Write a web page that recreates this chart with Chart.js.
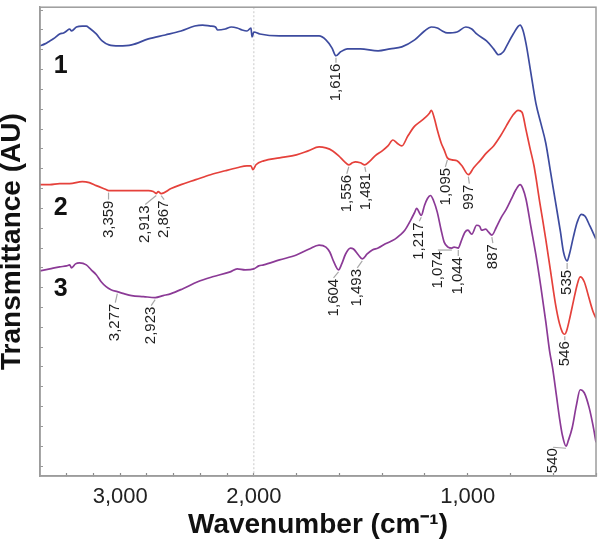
<!DOCTYPE html>
<html><head><meta charset="utf-8">
<script src="https://cdn.jsdelivr.net/npm/chart.js@4.4.1/dist/chart.umd.min.js"></script>
<style>html,body{margin:0;padding:0;background:#fff}canvas{display:block}</style>
</head><body>
<canvas id="c" width="607" height="545"></canvas>
<script>
// ---- data: wavenumber (cm-1) and transmittance (arbitrary units) ----
const wn1 = [4000,3954,3908,3862,3816,3779,3751,3723,3705,3659,3604,3567,3539,3474,3419,3355,3262,3143,2986,2829,2681,2553,2479,2405,2359,2340,2267,2211,2156,2110,2064,2027,2017,2000,1972,1880,1801,1695,1663,1635,1616,1594,1562,1502,1419,1363,1308,1248,1202,1170,1142,1119,1096,1050,1009,981,958,912,879,856,833,820,787,755,742,727,704,681,658,635,612,589,566,552,535,524,506,488,469,451,428,400];
const t1  = [434,436,439,442,446,447,449,451,449,453,454,454,452,446,439,435,434,435,441,445,449,454,455,454,453,450,451,453,452,450,449,452,443,448,446,444,444,444,440,432,424,428,431,431,429,431,433,440,449,453,452,449,447,448,453,451,446,439,431,425,428,433,446,455,450,436,406,376,356,336,306,276,246,226,217,224,241,256,264,262,252,239];

const wn2 = [4000,3908,3816,3723,3604,3539,3474,3382,3359,3170,2986,2940,2913,2894,2867,2774,2681,2543,2405,2267,2156,2064,2027,2009,1990,1954,1880,1801,1746,1695,1663,1631,1603,1575,1556,1539,1525,1502,1481,1456,1433,1400,1373,1350,1331,1308,1280,1248,1225,1202,1179,1170,1156,1142,1124,1110,1095,1073,1050,1027,997,972,939,912,879,847,820,792,764,746,727,709,690,677,663,649,635,612,589,571,557,546,538,524,506,488,474,455,432,414,400];
const t2  = [294,294,295,295,297,296,293,289,288,288,288,287,285,287,285,290,294,299,304,308,311,313,313,309,314,318,321,324,328,332,331,328,323,317,314,316,317,316,314,318,323,328,333,339,336,333,343,353,357,361,366,369,361,349,336,329,321,319,318,313,304,311,319,326,333,343,353,363,369,367,349,331,313,296,276,258,239,206,173,154,145,143,146,158,176,193,201,196,179,166,159];

const wn3 = [4000,3908,3816,3751,3723,3705,3668,3631,3567,3521,3474,3428,3382,3336,3277,3216,3143,3032,2923,2848,2774,2663,2525,2387,2221,2156,2082,2000,1977,1954,1880,1801,1741,1695,1663,1645,1626,1604,1589,1571,1548,1534,1511,1493,1470,1446,1419,1387,1340,1317,1294,1267,1248,1239,1217,1202,1188,1174,1160,1142,1124,1110,1092,1074,1064,1044,1032,1013,999,981,958,944,935,916,902,887,866,843,820,797,774,755,742,727,704,681,658,635,617,603,585,571,557,540,529,511,492,474,455,432,414,400];
const t3  = [207,209,211,212,213,210,214,215,213,208,203,196,191,188,186,184,182,181,180,182,184,189,196,201,206,209,208,209,212,213,218,223,229,233,231,226,216,208,214,224,230,229,223,219,224,228,230,234,239,243,248,258,266,270,263,273,280,283,278,266,248,236,231,230,231,230,236,246,248,244,253,252,248,249,246,243,251,261,269,279,289,294,290,279,251,223,191,156,126,109,81,59,41,30,36,49,71,87,84,69,51,34];

const seriesNames = ['1','2','3'];
// peak annotations: series index, wavenumber
const annSeries = [0,1,1,1,1,1,1,1,0,1,2,2,2,2,2,2,2,2,2];
const annWn     = [1616,3359,2913,2867,1556,1481,1095,997,535,546,3277,2923,1604,1493,1217,1074,1044,887,540];

// x tick marks (cm-1) and printed tick labels (the reference prints "3,000" one minor step left of its mark)
const xTickWn    = [3750,3500,3250,3000,2750,2500,2250,2000,1800,1600,1400,1200,1000,800,600,400];
const xLabelText = ['3,000','2,000','1,000'];
const xLabelAt   = [3250,2000,1000];

// ---- style / layout (not data) ----
const FONT = '"Liberation Sans", Arial, Helvetica, sans-serif';
const colors = ['#3d4b9f','#e5413b','#8b3a96'];
const annDx  = [0,0,-11,3,-2,1,-2,1,0,0,-2,-4,-5,-5,-2,-14,0,1,-13];
const annGap = [8,10,12,7,10,8,10,10,9,7,12,9,9,10,7,3,9,9,2];
const nameAnchor = [[3806,414],[3806,270],[3806,189]];

// broken wavenumber axis: region above 2000 cm-1 compressed by 2
const u = w => (w <= 2000 ? w : 2000 + (w - 2000) / 2);
const uInv = v => (v <= 2000 ? v : 2000 + (v - 2000) * 2);

const wns = [wn1, wn2, wn3], ts = [t1, t2, t3];
function valueAt(s, w) {
  const W = wns[s], T = ts[s];
  for (let i = 0; i < W.length - 1; i++) {
    if (W[i] >= w && w >= W[i+1]) {
      const f = (W[i] - w) / (W[i] - W[i+1] || 1);
      return T[i] + f * (T[i+1] - T[i]);
    }
  }
  return T[T.length - 1];
}

const overlay = {
  id: 'overlay',
  beforeDatasetsDraw(chart) {
    const {ctx, chartArea: a, scales: {x}} = chart;
    const px = x.getPixelForValue(u(2000));
    ctx.save();
    ctx.strokeStyle = '#c9c9c9'; ctx.lineWidth = 1; ctx.setLineDash([2, 2]);
    ctx.beginPath(); ctx.moveTo(px, a.top); ctx.lineTo(px, a.bottom); ctx.stroke();
    ctx.restore();
  },
  afterDraw(chart) {
    const {ctx, chartArea: a, scales: {x, y}} = chart;
    ctx.save();
    ctx.strokeStyle = '#9c9c9c'; ctx.lineWidth = 1.5;
    ctx.strokeRect(a.left, a.top, a.right - a.left, a.bottom - a.top);
    // peak labels
    ctx.font = '15px ' + FONT;
    for (let i = 0; i < annWn.length; i++) {
      const w = annWn[i];
      const px = x.getPixelForValue(u(w));
      const py = y.getPixelForValue(valueAt(annSeries[i], w));
      const tx = px + annDx[i], ty = py + annGap[i];
      ctx.strokeStyle = '#a8a8a8'; ctx.lineWidth = 1.2;
      ctx.beginPath(); ctx.moveTo(px, py + 2); ctx.lineTo(tx, ty - 1); ctx.stroke();
      ctx.save();
      ctx.translate(tx, ty); ctx.rotate(-Math.PI / 2);
      ctx.fillStyle = '#1e1e1e'; ctx.textAlign = 'right'; ctx.textBaseline = 'middle';
      ctx.fillText(w.toLocaleString('en-US'), 0, 0);
      ctx.restore();
    }
    // series numbers
    ctx.font = 'bold 25px ' + FONT;
    ctx.fillStyle = '#111'; ctx.textAlign = 'center'; ctx.textBaseline = 'middle';
    seriesNames.forEach((n, i) => {
      ctx.fillText(n, x.getPixelForValue(u(nameAnchor[i][0])), y.getPixelForValue(nameAnchor[i][1]));
    });
    ctx.restore();
  }
};

new Chart(document.getElementById('c'), {
  type: 'line',
  data: {
    datasets: [0, 1, 2].map(s => ({
      label: seriesNames[s],
      data: wns[s].map((w, i) => ({x: u(w), y: ts[s][i]})),
      borderColor: colors[s],
      borderWidth: 1.7,
      pointRadius: 0,
      fill: false,
      cubicInterpolationMode: 'monotone'
    }))
  },
  options: {
    responsive: false,
    animation: false,
    layout: {padding: {top: 3, right: 3, left: 0, bottom: 0}},
    plugins: {legend: {display: false}, tooltip: {enabled: false}},
    scales: {
      x: {
        type: 'linear', min: 400, max: 3000, reverse: true,
        afterFit: s => { s.height = 69; },
        afterBuildTicks: s => { s.ticks = xTickWn.map(w => ({value: u(w)})); },
        ticks: {
          autoSkip: false, maxRotation: 0, minRotation: 0, padding: 11,
          color: '#222', font: {family: FONT, size: 22},
          callback: v => { const k = xLabelAt.indexOf(Math.round(uInv(v))); return k >= 0 ? xLabelText[k] : ''; }
        },
        grid: {drawOnChartArea: false, tickLength: -3, tickColor: '#8a8a8a', tickWidth: 1.2},
        border: {color: '#9c9c9c', width: 1.5},
        title: {display: true, text: 'Wavenumber (cm⁻¹)', color: '#111',
                font: {family: FONT, size: 28, weight: 'bold'}, padding: {top: 0, bottom: 3}}
      },
      y: {
        type: 'linear', min: 0, max: 473,
        afterFit: s => { s.width = 40; },
        afterBuildTicks: s => { const a = []; for (let v = 10; v < 473; v += 10) a.push({value: v}); s.ticks = a; },
        ticks: {callback: () => '', padding: 0},
        grid: {drawOnChartArea: false, tickLength: -3, tickColor: '#9a9a9a', tickWidth: 1},
        border: {color: '#9c9c9c', width: 1.5},
        title: {display: true, text: 'Transmittance (AU)', color: '#111',
                font: {family: FONT, size: 28, weight: 'bold', lineHeight: 0.9}, padding: 0}
      }
    }
  },
  plugins: [overlay]
});
</script>
</body></html>
